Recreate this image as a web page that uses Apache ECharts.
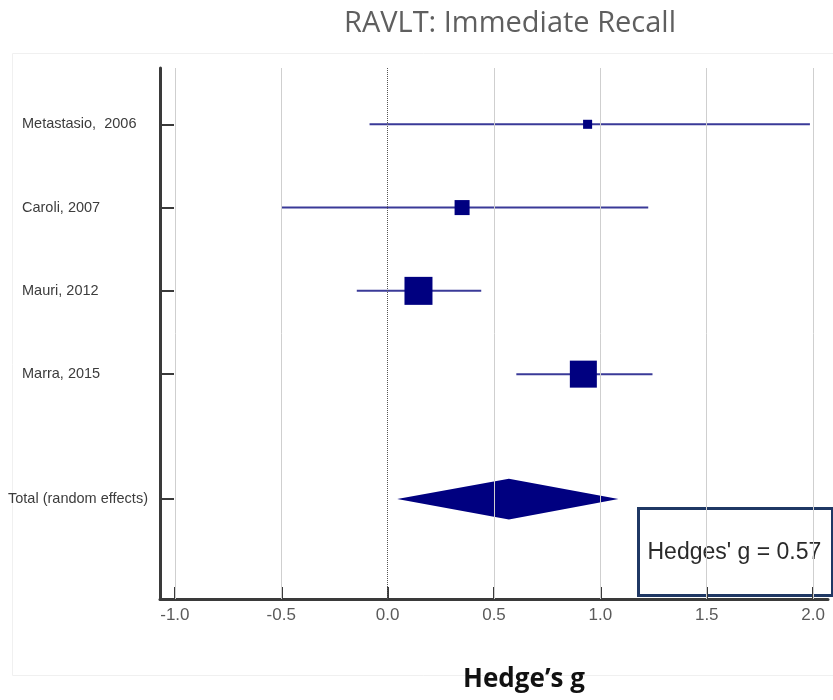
<!DOCTYPE html>
<html>
<head>
<meta charset="utf-8">
<script src="https://cdn.jsdelivr.net/npm/echarts@6/dist/echarts.min.js"></script>
<style>
html,body{margin:0;padding:0;background:#fff;}
#chart{width:833px;height:700px;}
</style>
</head>
<body>
<div id="chart"></div>
<script>
// ---- data ----
const studies = ['Metastasio,  2006', 'Caroli, 2007', 'Mauri, 2012', 'Marra, 2015'];
const effect  = [0.94, 0.35, 0.145, 0.92];
const ciLow   = [-0.085, -0.50, -0.145, 0.605];
const ciHigh  = [1.985, 1.225, 0.44, 1.245];
const weights = [4.5, 12.4, 43.1, 40.1];
const totalLabel = 'Total (random effects)';
const totalEffect = 0.57;
const totalLow = 0.045;
const totalHigh = 1.085;
const xTicks = [-1.0, -0.5, 0.0, 0.5, 1.0, 1.5, 2.0];
const titleText = 'RAVLT: Immediate Recall';
const xTitle = 'Hedge\u2019s g';
const annotation = 'Hedges\' g = 0.57';

// rows: study i at i+1, total at n+1.5
const rows = studies.map((s, i) => i + 1);
const totalRow = studies.length + 1.5;
const rowLabel = {};
studies.forEach((s, i) => { rowLabel[rows[i]] = '{a|' + s + '}'; });
rowLabel[totalRow] = '{b|' + totalLabel + '}';

const studyData = studies.map((s, i) => [effect[i], rows[i], ciLow[i], ciHigh[i], weights[i]]);
const totalData = [[totalEffect, totalRow, totalLow, totalHigh]];
const maxW = Math.max.apply(null, weights);

const chart = echarts.init(document.getElementById('chart'));
chart.setOption({
  backgroundColor: '#fff',
  animation: false,
  title: [
    { text: titleText, left: 505, top: 4, textAlign: 'center',
      textStyle: { fontFamily: 'Open Sans', fontSize: 29, fontWeight: 'normal', color: '#5f5f5f' } },
    { text: xTitle, left: 519, top: 662, textAlign: 'center',
      textStyle: { fontFamily: 'Open Sans', fontSize: 26, fontWeight: 'bold', color: '#111' } }
  ],
  graphic: [
    { type: 'rect', left: 10, top: 51, shape: { width: 830, height: 622 }, silent: true, z: -10,
      style: { fill: 'none', stroke: '#f0f0f0', lineWidth: 1 } },
    { type: 'group', left: 637, top: 507, z: 100, children: [
      { type: 'rect', shape: { x: 0, y: 0, width: 194, height: 87 },
        style: { fill: '#fff', stroke: '#1f3864', lineWidth: 3 } },
      { type: 'text', x: 9, y: 44,
        style: { text: annotation, fontFamily: 'Liberation Sans', fontSize: 23, fill: '#2a2a2a', verticalAlign: 'middle' } }
    ]}
  ],
  grid: { left: 160, right: 5, top: 68, bottom: 101, containLabel: false },
  xAxis: {
    type: 'value', min: -1.07, max: 2.07,
    axisLine: { show: true, onZero: false, lineStyle: { color: '#3a3a3a', width: 3 } },
    axisTick: { show: true, inside: true, length: 12, customValues: xTicks, lineStyle: { color: '#3a3a3a', width: 2 } },
    axisLabel: { customValues: xTicks, margin: 8, fontFamily: 'Liberation Sans', fontSize: 17, color: '#5a5a5a',
      formatter: v => v.toFixed(1) },
    splitLine: { show: false }
  },
  yAxis: {
    type: 'value', inverse: true, min: 0.324, max: 6.70,
    axisLine: { show: true, onZero: false, lineStyle: { color: '#3a3a3a', width: 3 } },
    axisTick: { show: true, inside: true, length: 14, customValues: rows.concat([totalRow]), lineStyle: { color: '#3a3a3a', width: 2 } },
    axisLabel: { customValues: rows.concat([totalRow]), align: 'left', margin: 152,
      formatter: v => rowLabel[v] || '',
      rich: {
        a: { fontFamily: 'Liberation Sans', fontSize: 14.5, color: '#3c3c3c', padding: [0, 0, 0, 14] },
        b: { fontFamily: 'Liberation Sans', fontSize: 14.5, color: '#3c3c3c' }
      } },
    splitLine: { show: false }
  },
  series: [
    { type: 'line', data: [], z: 1, silent: true,
      markLine: { silent: true, symbol: 'none', label: { show: false },
        data: xTicks.map(v => ({ xAxis: v, lineStyle: v === 0
          ? { color: '#555', width: 1, type: 'dotted' }
          : { color: '#cfcfcf', width: 1, type: 'solid' } })) } },
    { type: 'custom', z: 3, data: studyData, encode: { x: [0, 2, 3], y: 1 },
      renderItem: function (params, api) {
        const y = api.value(1);
        const c = api.coord([api.value(0), y]);
        const l = api.coord([api.value(2), y]);
        const h = api.coord([api.value(3), y]);
        const s = 28 * Math.sqrt(api.value(4) / maxW);
        return { type: 'group', children: [
          { type: 'line', shape: { x1: l[0], y1: l[1], x2: h[0], y2: h[1] },
            style: { stroke: '#3a3a98', lineWidth: 2 } },
          { type: 'rect', shape: { x: c[0] - s / 2, y: c[1] - s / 2, width: s, height: s },
            style: { fill: '#000080' } }
        ]};
      } },
    { type: 'custom', z: 3, data: totalData, encode: { x: [0, 2, 3], y: 1 },
      renderItem: function (params, api) {
        const y = api.value(1);
        const c = api.coord([api.value(0), y]);
        const l = api.coord([api.value(2), y]);
        const h = api.coord([api.value(3), y]);
        const hh = api.size([0, 0.245])[1];
        return { type: 'polygon',
          shape: { points: [[l[0], l[1]], [c[0], c[1] - hh], [h[0], h[1]], [c[0], c[1] + hh]] },
          style: { fill: '#000080' } };
      } }
  ]
});
</script>
</body>
</html>
